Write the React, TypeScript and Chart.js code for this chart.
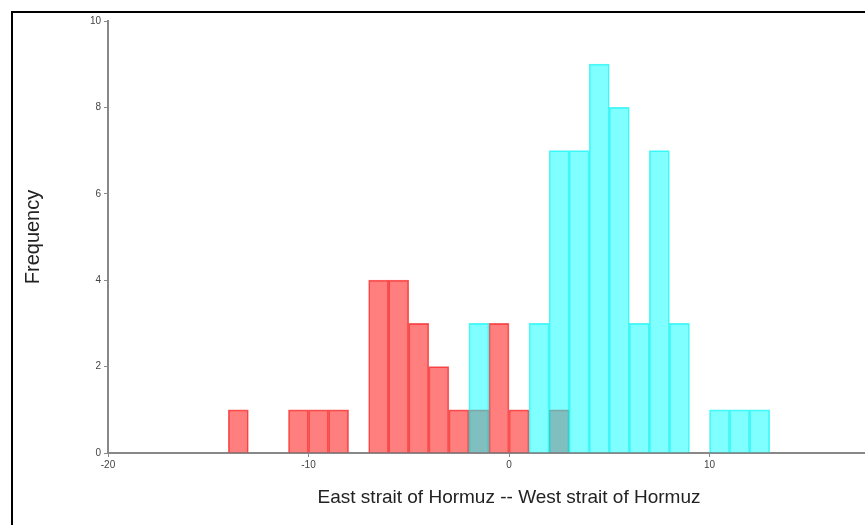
import React, { useEffect, useRef } from "react";
import { Chart, registerables } from "chart.js";

Chart.register(...registerables);

// Histogram bins (bin start, width 1)
const redBinStarts = [-14, -11, -10, -9, -7, -6, -5, -4, -3, -2, -1, 0, 2];
const redCounts = [1, 1, 1, 1, 4, 4, 3, 2, 1, 1, 3, 1, 1];
const cyanBinStarts = [-2, 1, 2, 3, 4, 5, 6, 7, 8, 10, 11, 12];
const cyanCounts = [3, 3, 7, 7, 9, 8, 3, 7, 3, 1, 1, 1];
const xTitle = "East strait of Hormuz -- West strait of Hormuz";
const yTitle = "Frequency";

export default function App() {
  const ref = useRef<HTMLCanvasElement | null>(null);
  useEffect(() => {
    if (!ref.current) return;
    const chart = new Chart(ref.current, {
      type: "bar",
      data: {
        datasets: [
          {
            label: "West",
            data: cyanBinStarts.map((s, i) => ({ x: s + 0.5, y: cyanCounts[i] })),
            backgroundColor: "rgba(0,255,255,0.5)",
            borderColor: "rgba(0,240,240,0.65)",
            borderWidth: 1,
          },
          {
            label: "East",
            data: redBinStarts.map((s, i) => ({ x: s + 0.5, y: redCounts[i] })),
            backgroundColor: "rgba(255,0,0,0.5)",
            borderColor: "rgba(240,0,0,0.6)",
            borderWidth: 1,
          },
        ],
      },
      options: {
        animation: false,
        responsive: false,
        maintainAspectRatio: false,
        layout: { padding: { top: 21, right: 1, left: 0, bottom: 0 } },
        datasets: {
          bar: { barPercentage: 1, categoryPercentage: 1, grouped: false },
        },
        plugins: { legend: { display: false }, tooltip: { enabled: false } },
        scales: {
          x: {
            type: "linear",
            min: -20,
            max: 20,
            offset: false,
            afterBuildTicks: (s: any) => {
              s.ticks = s.ticks.filter((t: any) => t.value < 20);
            },
            afterFit: (s: any) => {
              s.height = 72;
            },
            ticks: {
              stepSize: 10,
              includeBounds: false,
              font: { family: "Liberation Sans", size: 10 },
              color: "#444",
              padding: 2,
              maxRotation: 0,
            },
            grid: { display: true, offset: false, drawOnChartArea: false, tickLength: 4, color: "#888" },
            border: { color: "#888", width: 2 },
            title: {
              display: true,
              text: xTitle,
              font: { family: "Liberation Sans", size: 19 },
              color: "#222",
              padding: { top: 0, bottom: 16 },
            },
          },
          y: {
            min: 0,
            max: 10,
            afterFit: (s: any) => {
              s.width = 108;
            },
            ticks: {
              stepSize: 2,
              font: { family: "Liberation Sans", size: 10 },
              color: "#444",
              padding: 3,
            },
            grid: { display: true, drawOnChartArea: false, tickLength: 4, color: "#888" },
            border: { color: "#888", width: 2 },
            title: {
              display: true,
              text: yTitle,
              font: { family: "Liberation Sans", size: 20 },
              color: "#222",
              padding: { top: 21, bottom: 0 },
            },
          },
        },
      },
    });
    return () => chart.destroy();
  }, []);

  return (
    <div
      style={{
        position: "fixed",
        left: 0,
        top: 0,
        width: 865,
        height: 525,
        background: "#fff",
        overflow: "hidden",
      }}
    >
      <canvas ref={ref} width={911} height={525} style={{ position: "absolute", left: 0, top: 0 }} />
      <div
        style={{
          position: "absolute",
          left: 11,
          top: 11,
          width: 900,
          height: 600,
          borderLeft: "2px solid #000",
          borderTop: "2px solid #000",
          pointerEvents: "none",
        }}
      />
    </div>
  );
}
